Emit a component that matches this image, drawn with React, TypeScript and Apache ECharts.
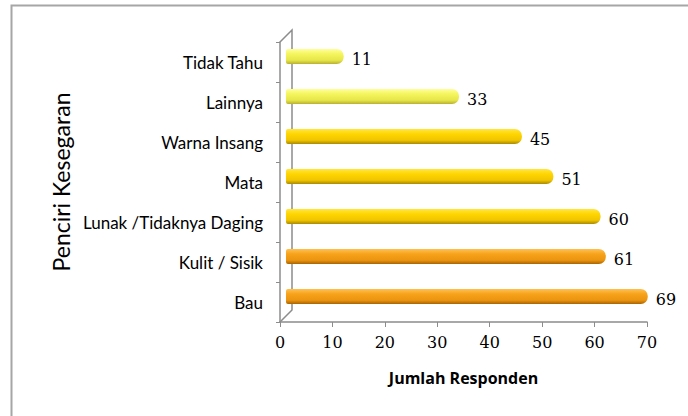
import React, { useEffect, useRef } from "react";
import * as echarts from "echarts";

const categories = ["Tidak Tahu", "Lainnya", "Warna Insang", "Mata", "Lunak /Tidaknya Daging", "Kulit / Sisik", "Bau"];
const values = [11, 33, 45, 51, 60, 61, 69];
const colorGroup = ["light", "light", "gold", "gold", "gold", "orange", "orange"];
const xTicks = { min: 0, max: 70, interval: 10 };

const palettes: Record<string, string[]> = {
  light: ["#ffff9a", "#f4f45c", "#e6e64a", "#b8b030"],
  gold: ["#ffe640", "#ffd500", "#f0c400", "#a88a00"],
  orange: ["#ffc050", "#f7a21a", "#ea9410", "#a86400"],
};

function grad(key: string) {
  const c = palettes[key];
  return new echarts.graphic.LinearGradient(0, 0, 0, 1, [
    { offset: 0, color: c[0] },
    { offset: 0.35, color: c[1] },
    { offset: 0.75, color: c[2] },
    { offset: 1, color: c[3] },
  ]);
}

export default function App() {
  const ref = useRef<HTMLDivElement>(null);
  useEffect(() => {
    if (!ref.current) return;
    const chart = echarts.init(ref.current, null, { renderer: "svg" });
    const frontLeft = 280;
    const frontTop = 42;
    const plotW = 367;
    const plotH = 280;
    const dx = 12;
    const dy = 12;
    chart.setOption({
      animation: false,
      backgroundColor: "#ffffff",
      grid: [
        { left: frontLeft, top: frontTop, width: plotW, height: plotH },
        { left: frontLeft + 6, top: frontTop - 5.5, width: plotW, height: plotH },
      ],
      xAxis: [
        {
          gridIndex: 0,
          type: "value",
          min: xTicks.min,
          max: xTicks.max,
          interval: xTicks.interval,
          splitLine: { show: false },
          axisLine: { show: true, lineStyle: { color: "#8c8c8c", width: 1.5 } },
          axisTick: { show: true, length: 5, lineStyle: { color: "#8c8c8c" } },
          axisLabel: { fontFamily: "DejaVu Serif", fontSize: 16, color: "#000", margin: 12 },
          name: "Jumlah Responden",
          nameLocation: "middle",
          nameGap: 48,
          nameTextStyle: { fontFamily: "Open Sans", fontWeight: "bold", fontSize: 16, color: "#000" },
        },
        {
          gridIndex: 1,
          type: "value",
          min: xTicks.min,
          max: xTicks.max,
          show: false,
        },
      ],
      yAxis: [
        {
          gridIndex: 0,
          type: "category",
          inverse: true,
          data: categories,
          axisLine: { show: true, lineStyle: { color: "#8c8c8c", width: 1.5 } },
          axisTick: { show: true, length: 4, lineStyle: { color: "#8c8c8c" } },
          axisLabel: { fontFamily: "Lato", fontSize: 17, color: "#000", margin: 17 },
          name: "Penciri Kesegaran",
          nameLocation: "middle",
          nameRotate: 90,
          nameGap: 208,
          nameTextStyle: { fontFamily: "Lato", fontSize: 23, color: "#000" },
        },
        {
          gridIndex: 1,
          type: "category",
          inverse: true,
          data: categories,
          show: false,
        },
      ],
      graphic: [
        {
          type: "rect",
          shape: { x: 11.5, y: 5.5, width: 700, height: 440 },
          style: { fill: "none", stroke: "#a6a6a6", lineWidth: 2 },
          silent: true,
        },
        {
          type: "polyline",
          shape: {
            points: [
              [frontLeft, frontTop],
              [frontLeft + dx, frontTop - dy],
              [frontLeft + dx, frontTop + plotH - dy],
              [frontLeft, frontTop + plotH],
            ],
          },
          style: { fill: "none", stroke: "#8c8c8c", lineWidth: 1.5 },
          silent: true,
        },
      ],
      series: [
        {
          type: "bar",
          xAxisIndex: 1,
          yAxisIndex: 1,
          barWidth: 15,
          data: values.map((v, i) => ({
            value: v,
            itemStyle: {
              color: grad(colorGroup[i]),
              borderRadius: [2, 7, 7, 2],
            },
          })),
          label: {
            show: true,
            position: "right",
            distance: 8,
            offset: [0, 3],
            fontFamily: "DejaVu Serif",
            fontSize: 16,
            color: "#000",
          },
        },
      ],
    });
    return () => chart.dispose();
  }, []);
  return (
    <div
      ref={ref}
      style={{ position: "absolute", left: 0, top: 0, width: 688, height: 416 }}
    />
  );
}
